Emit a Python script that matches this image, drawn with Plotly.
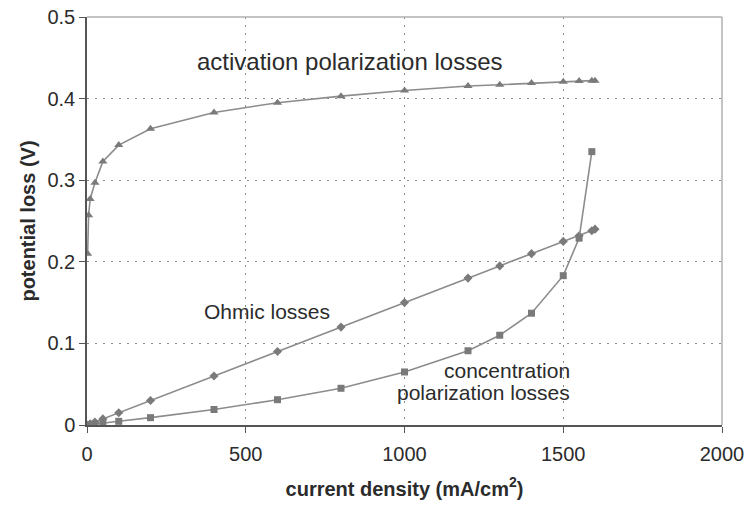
import plotly.graph_objects as go

# Activation polarization losses
act_x = [2, 5, 10, 25, 50, 100, 200, 400, 600, 800, 1000, 1200, 1300, 1400, 1500, 1550, 1590, 1600]
act_y = [0.210, 0.257, 0.277, 0.297, 0.323, 0.343, 0.363, 0.383, 0.395, 0.403, 0.410, 0.4155, 0.417, 0.419, 0.4205, 0.4215, 0.422, 0.422]

# Ohmic losses
ohm_x = [0, 10, 25, 50, 100, 200, 400, 600, 800, 1000, 1200, 1300, 1400, 1500, 1550, 1590, 1600]
ohm_y = [0.0, 0.0015, 0.0037, 0.0075, 0.015, 0.030, 0.060, 0.090, 0.120, 0.150, 0.180, 0.195, 0.210, 0.225, 0.232, 0.238, 0.240]

# Concentration polarization losses
con_x = [0, 10, 25, 50, 100, 200, 400, 600, 800, 1000, 1200, 1300, 1400, 1500, 1550, 1590]
con_y = [0.0, 0.0005, 0.001, 0.002, 0.0045, 0.009, 0.019, 0.031, 0.045, 0.065, 0.091, 0.110, 0.137, 0.183, 0.229, 0.335]

x_ticks = [0, 500, 1000, 1500, 2000]
y_ticks = [0, 0.1, 0.2, 0.3, 0.4, 0.5]
y_tick_text = ["0", "0.1", "0.2", "0.3", "0.4", "0.5"]

line_col = "#8c8c8c"
mark_col = "#7a7a7a"

fig = go.Figure()
fig.add_trace(go.Scatter(x=act_x, y=act_y, mode="lines+markers",
                         line=dict(color=line_col, width=1.6),
                         marker=dict(symbol="triangle-up", size=8, color=mark_col)))
fig.add_trace(go.Scatter(x=ohm_x, y=ohm_y, mode="lines+markers",
                         line=dict(color=line_col, width=1.6),
                         marker=dict(symbol="diamond", size=7, color=mark_col)))
fig.add_trace(go.Scatter(x=con_x, y=con_y, mode="lines+markers",
                         line=dict(color=line_col, width=1.6),
                         marker=dict(symbol="square", size=7, color=mark_col)))

font_fam = "Liberation Sans, Arial, sans-serif"
txt_col = "#2b2b2b"

fig.update_layout(
    width=750, height=506,
    margin=dict(l=87, r=28, t=17, b=81),
    paper_bgcolor="white", plot_bgcolor="white",
    showlegend=False,
    font=dict(family=font_fam, color=txt_col, size=19),
    xaxis=dict(range=[0, 2000], tickvals=x_ticks, ticks="outside", ticklen=6,
               tickcolor="#555", showline=True, linecolor="#555", linewidth=1.5,
               showgrid=True, gridcolor="#8a8a8a", griddash="2px,6px", gridwidth=1.2,
               zeroline=False, tickfont=dict(size=20, color=txt_col),
               ticklabelstandoff=4, automargin=False,
               title=dict(text="<b>current density (mA/cm<sup>2</sup>)</b>",
                          font=dict(size=20, color=txt_col), standoff=18)),
    yaxis=dict(range=[0, 0.5], tickvals=y_ticks, ticktext=y_tick_text,
               ticks="outside", ticklen=6, automargin=False,
               tickcolor="#555", showline=True, linecolor="#555", linewidth=1.5,
               showgrid=True, gridcolor="#8a8a8a", griddash="2px,6px", gridwidth=1.2,
               zeroline=False, tickfont=dict(size=20, color=txt_col),
               title=dict(text="<b>potential loss (V)</b>",
                          font=dict(size=20, color=txt_col), standoff=6)),
    shapes=[
        dict(type="line", xref="paper", yref="paper", x0=0, x1=1, y0=1, y1=1,
             line=dict(color="#b0b0b0", width=1.5)),
        dict(type="line", xref="paper", yref="paper", x0=1, x1=1, y0=0, y1=1,
             line=dict(color="#b0b0b0", width=1.5)),
    ],
    annotations=[
        dict(x=827, y=0.445, text="activation polarization losses", showarrow=False,
             font=dict(size=24, color=txt_col)),
        dict(x=566, y=0.139, text="Ohmic losses", showarrow=False,
             font=dict(size=21, color=txt_col)),
        dict(x=1528, y=0.0674, text="concentration", showarrow=False, xanchor="right",
             font=dict(size=21, color=txt_col)),
        dict(x=1528, y=0.0404, text="polarization losses", showarrow=False, xanchor="right",
             font=dict(size=21, color=txt_col)),
    ],
)

fig.write_html("out.html")
